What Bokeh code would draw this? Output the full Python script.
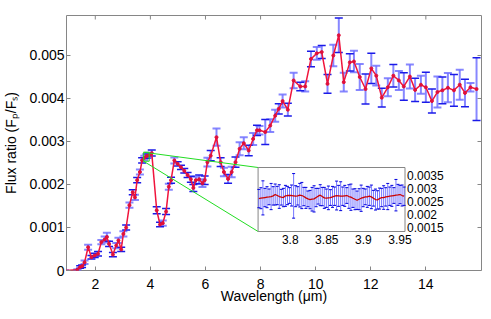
import math
from bokeh.plotting import figure
from bokeh.models import ColumnDataSource, Whisker, TeeHead, Range1d, FixedTicker
from bokeh.embed import file_html
from bokeh.resources import INLINE
from bokeh.core.properties import value

# ---------------- main spectrum ----------------
wl = [0.9, 1.35, 1.45, 1.52, 1.61, 1.74, 1.86, 1.98, 2.1, 2.22,
      2.34, 2.42, 2.5, 2.64, 2.76, 2.84, 2.94, 3.02, 3.12, 3.24,
      3.36, 3.44, 3.52, 3.62, 3.7, 3.78, 3.86, 3.95, 4.05, 4.23,
      4.35, 4.45, 4.57, 4.67, 4.75, 4.87, 4.99, 5.11, 5.23, 5.35,
      5.47, 5.56, 5.65, 5.77, 5.89, 5.97, 6.07, 6.19, 6.4, 6.55,
      6.67, 6.82, 6.95, 7.09, 7.24, 7.39, 7.57, 7.73, 7.87, 7.96,
      8.17, 8.35, 8.53, 8.66, 8.8, 8.99, 9.2, 9.44, 9.62, 9.83,
      10.04, 10.22, 10.43, 10.64, 10.84, 11.02, 11.24, 11.39, 11.6, 11.81,
      12.02, 12.2, 12.4, 12.62, 12.82, 13.02, 13.2, 13.42, 13.61, 13.82,
      14.0, 14.22, 14.42, 14.6, 14.8, 15.02, 15.23, 15.42, 15.62, 15.84]
flux = [0.0, 0.00002, 0.00008, 0.0001, 0.00019, 0.00054, 0.00031, 0.00035, 0.00039, 0.00066,
        0.00072, 0.00078, 0.00062, 0.00037, 0.00058, 0.0007, 0.00049, 0.00085, 0.001, 0.00152,
        0.00182, 0.0017, 0.0021, 0.00229, 0.00256, 0.00262, 0.00266, 0.00268, 0.00273, 0.0014,
        0.00107, 0.0011, 0.00137, 0.00195, 0.0021, 0.00256, 0.00248, 0.0024, 0.00232, 0.00222,
        0.00212, 0.00192, 0.0021, 0.00212, 0.00203, 0.0021, 0.00252, 0.00267, 0.0031, 0.00252,
        0.00229, 0.00213, 0.00229, 0.00252, 0.00283, 0.00296, 0.00279, 0.00306, 0.00326, 0.00326,
        0.00322, 0.00337, 0.0036, 0.00376, 0.00394, 0.00374, 0.00442, 0.00428, 0.00428, 0.00492,
        0.00505, 0.00508, 0.00434, 0.005, 0.00547, 0.00438, 0.00484, 0.00486, 0.0045, 0.00422,
        0.0047, 0.00453, 0.00402, 0.00426, 0.00453, 0.00442, 0.00428, 0.00451, 0.0042, 0.00432,
        0.00426, 0.00394, 0.00415, 0.00419, 0.00425, 0.00419, 0.00432, 0.00413, 0.00426, 0.00422]
err = [0.0, 0.00001, 0.00003, 0.00003, 0.00004, 0.00006, 0.00004, 0.00005, 0.00005, 0.00005,
       0.00007, 0.0001, 0.00006, 0.00005, 0.00006, 0.00006, 0.00005, 0.00006, 0.00006, 0.00006,
       0.00006, 0.00006, 0.00006, 0.00006, 0.00006, 0.00005, 0.00005, 0.00006, 0.00007, 0.00008,
       0.00005, 0.00006, 0.00007, 0.00007, 0.00007, 0.00007, 0.00005, 0.00005, 0.00005, 0.00006,
       0.00007, 0.00008, 0.00008, 0.0001, 0.00009, 0.0001, 0.0001, 0.00012, 0.0002, 0.0001,
       0.0001, 0.0001, 0.00012, 0.00012, 0.00015, 0.00014, 0.00012, 0.00014, 0.00012, 0.0001,
       0.00029, 0.00015, 0.00014, 0.00012, 0.00015, 0.00015, 0.00018, 0.0001, 0.00012, 0.00018,
       0.00015, 0.00015, 0.00022, 0.00025, 0.0004, 0.00022, 0.0002, 0.00025, 0.0003, 0.00035,
       0.00035, 0.00023, 0.00022, 0.00021, 0.00026, 0.00022, 0.00032, 0.00028, 0.00027, 0.00021,
       0.00035, 0.00028, 0.00036, 0.00031, 0.00034, 0.00037, 0.00035, 0.00032, 0.0001, 0.00073]
dark = [0, 0, 1, 1, 0, 0, 1, 1, 1, 0,
        0, 0, 1, 1, 0, 0, 1, 0, 1, 0,
        1, 0, 1, 0, 1, 0, 1, 0, 1, 1,
        1, 0, 1, 0, 1, 0, 1, 1, 1, 1,
        1, 1, 0, 1, 0, 1, 0, 1, 0, 1,
        0, 1, 0, 1, 0, 0, 1, 0, 1, 0,
        1, 0, 0, 1, 0, 1, 0, 1, 0, 1,
        0, 1, 1, 0, 1, 0, 1, 0, 0, 1,
        1, 0, 1, 0, 1, 0, 1, 0, 1, 0,
        1, 1, 0, 1, 0, 1, 0, 1, 0, 1]

# ---------------- inset (high resolution 3.76-3.96 um) ----------------
inset_wl = [3.757, 3.7598, 3.7626, 3.7654, 3.7682, 3.771, 3.7738, 3.7766, 3.7794, 3.7822,
            3.785, 3.7878, 3.7906, 3.7934, 3.7962, 3.799, 3.8018, 3.8046, 3.8074, 3.8102,
            3.813, 3.8158, 3.8186, 3.8214, 3.8242, 3.827, 3.8298, 3.8326, 3.8354, 3.8382,
            3.841, 3.8438, 3.8466, 3.8494, 3.8522, 3.855, 3.8578, 3.8606, 3.8634, 3.8662,
            3.869, 3.8718, 3.8746, 3.8774, 3.8802, 3.883, 3.8858, 3.8886, 3.8914, 3.8942,
            3.897, 3.8998, 3.9026, 3.9054, 3.9082, 3.911, 3.9138, 3.9166, 3.9194, 3.9222,
            3.925, 3.9278, 3.9306, 3.9334, 3.9362, 3.939, 3.9418, 3.9446, 3.9474, 3.9502,
            3.953, 3.9558]
inset_flux = [0.002616, 0.002629, 0.002642, 0.002655, 0.002668, 0.00268, 0.002693, 0.002719, 0.00277, 0.002732,
              0.002693, 0.002668, 0.002655, 0.002719, 0.002732, 0.002732, 0.002732, 0.002719, 0.002706, 0.002719,
              0.002745, 0.002732, 0.002693, 0.002642, 0.002604, 0.002578, 0.002591, 0.002604, 0.002655, 0.002706,
              0.002745, 0.002693, 0.002642, 0.002629, 0.002642, 0.002655, 0.00268, 0.002706, 0.002732, 0.002719,
              0.002706, 0.002706, 0.002719, 0.002732, 0.002693, 0.002668, 0.002629, 0.002591, 0.002552, 0.002591,
              0.002629, 0.002655, 0.00268, 0.00268, 0.002706, 0.00268, 0.002629, 0.002578, 0.002565, 0.002616,
              0.002655, 0.002655, 0.00268, 0.002693, 0.002706, 0.002719, 0.002732, 0.002745, 0.002757, 0.00277,
              0.002732, 0.002706]
inset_err = [0.00035, 0.0004, 0.00065, 0.00035, 0.0004, 0.0003, 0.0005, 0.00035, 0.0004, 0.00035,
             0.00045, 0.0003, 0.00035, 0.0004, 0.00035, 0.0003, 0.0004, 0.00085, 0.0004, 0.00035,
             0.00045, 0.0005, 0.00035, 0.0004, 0.0003, 0.00035, 0.00045, 0.0005, 0.00035, 0.0003,
             0.0004, 0.00035, 0.0004, 0.00035, 0.00045, 0.0003, 0.0004, 0.00035, 0.00055, 0.0004,
             0.00055, 0.00035, 0.0004, 0.0003, 0.00045, 0.0005, 0.00035, 0.0004, 0.00035, 0.0004,
             0.0005, 0.00035, 0.0003, 0.0004, 0.00035, 0.00045, 0.0003, 0.0004, 0.00035, 0.0004,
             0.00035, 0.00045, 0.00035, 0.0005, 0.00035, 0.0004, 0.0003, 0.0006, 0.0004, 0.00035,
             0.0004, 0.00035]

x_ticks = [2, 4, 6, 8, 10, 12, 14]
y_ticks = [0.0, 0.001, 0.002, 0.003, 0.004, 0.005]
y_tick_labels = ["0", "0.001", "0.002", "0.003", "0.004", "0.005"]
inset_x_ticks = [3.8, 3.85, 3.9, 3.95]
inset_x_labels = ["3.8", "3.85", "3.9", "3.95"]
inset_y_ticks = [0.0015, 0.002, 0.0025, 0.003, 0.0035]
inset_y_labels = ["0.0015", "0.002", "0.0025", "0.003", "0.0035"]

# ---------------- layout parameters ----------------
X0, X1 = 0.955, 16.02
Y0, Y1 = 0.0, 0.00593
IX0, IX1 = 3.756, 3.957
IY0, IY1 = 0.00136, 0.0038
BX0, BX1 = 7.91, 13.243        # inset box placement (main data coords)
BY0, BY1 = 0.000907, 0.002395
ZY0, ZY1 = 0.00254, 0.00275     # zoom rectangle vertical extent

FONT = "Liberation Sans"
FRAME = "#868686"

p = figure(width=491, height=319, x_range=Range1d(X0, X1), y_range=Range1d(Y0, Y1),
           output_backend="svg", toolbar_location=None,
           min_border_left=63, min_border_right=10, min_border_top=15, min_border_bottom=49)
p.background_fill_color = "white"
p.border_fill_color = "white"
p.outline_line_color = FRAME
p.xgrid.visible = False
p.ygrid.visible = False

sx = (IX1 - IX0) / (BX1 - BX0)
sy = (IY1 - IY0) / (BY1 - BY0)
p.extra_x_ranges = {"ix": Range1d(IX0 - (BX0 - X0) * sx, IX1 + (X1 - BX1) * sx)}
p.extra_y_ranges = {"iy": Range1d(IY0 - (BY0 - Y0) * sy, IY1 + (Y1 - BY1) * sy)}

xa = p.xaxis[0]
ya = p.yaxis[0]
xa.ticker = FixedTicker(ticks=x_ticks)
ya.ticker = FixedTicker(ticks=y_ticks)
ya.major_label_overrides = dict(zip(y_ticks, y_tick_labels))
for ax in (xa, ya):
    ax.axis_line_color = None
    ax.major_tick_in = 4
    ax.major_tick_out = 0
    ax.minor_tick_in = 0
    ax.minor_tick_out = 0
    ax.major_tick_line_color = FRAME
    ax.major_label_text_font = FONT
    ax.major_label_text_color = "black"
    ax.major_label_text_font_size = "14px"
    ax.axis_label_text_font = FONT
    ax.axis_label_text_font_style = "normal"
    ax.axis_label_text_color = "black"
    ax.axis_label_text_font_size = "14px"
xa.axis_label = "Wavelength (\u03bcm)"
ya.axis_label = "Flux ratio (F\u209a/F\u209b)"
xa.major_label_standoff = 8
xa.axis_label_standoff = -4
ya.major_label_standoff = 2
ya.axis_label_standoff = 7

# inward ticks on the top and right edges (half of each dash is clipped by the frame)
p.scatter(x=x_ticks, y=[Y1] * len(x_ticks), marker="dash", size=8, angle=math.pi / 2,
          line_color=FRAME, line_width=1)
p.scatter(x=[X1] * len(y_ticks), y=y_ticks, marker="dash", size=8,
          line_color=FRAME, line_width=1)

# ---------------- main error bars ----------------
def split(flag):
    idx = [i for i in range(len(wl)) if dark[i] == flag]
    return ColumnDataSource(dict(
        x=[wl[i] for i in idx],
        lo=[flux[i] - err[i] for i in idx],
        hi=[flux[i] + err[i] for i in idx]))

light_src = split(0)
dark_src = split(1)

LIGHT = "#7272ff"
DARK = "#1a1ae8"
p.add_layout(Whisker(source=light_src, base="x", lower="lo", upper="hi", dimension="height",
                     line_color=LIGHT, line_alpha=0.85, line_width=2,
                     upper_head=TeeHead(size=8, line_color=LIGHT, line_alpha=0.85, line_width=2),
                     lower_head=TeeHead(size=8, line_color=LIGHT, line_alpha=0.85, line_width=2)))
p.add_layout(Whisker(source=dark_src, base="x", lower="lo", upper="hi", dimension="height",
                     line_color=LIGHT, line_alpha=0.85, line_width=2,
                     upper_head=TeeHead(size=8, line_color=DARK, line_width=1.5),
                     lower_head=TeeHead(size=8, line_color=DARK, line_width=1.5)))

main_src = ColumnDataSource(dict(x=wl, y=flux))
p.line("x", "y", source=main_src, line_color="#f0143c", line_width=1.5)
p.scatter("x", "y", source=main_src, size=3, color="#e0103a")

# ---------------- zoom indicator ----------------
p.quad(left=[IX0], right=[IX1], bottom=[ZY0], top=[ZY1], fill_color=None,
       line_color="#22dd22", line_width=1)
p.segment(x0=[IX0, IX0], y0=[ZY1, ZY0], x1=[BX0, BX0], y1=[BY1, BY0],
          line_color="#22dd22", line_width=1)

# ---------------- inset ----------------
p.quad(left=[IX0], right=[IX1], bottom=[IY0], top=[IY1], fill_color="white",
       line_color=FRAME, line_width=1, x_range_name="ix", y_range_name="iy")

inset_src = ColumnDataSource(dict(
    x=inset_wl,
    y=inset_flux,
    lo=[f - e for f, e in zip(inset_flux, inset_err)],
    hi=[f + e for f, e in zip(inset_flux, inset_err)]))
IB = "#3a3aff"
p.segment(x0="x", y0="lo", x1="x", y1="hi", source=inset_src, line_color=IB,
          line_alpha=0.7, line_width=1, x_range_name="ix", y_range_name="iy")
p.scatter("x", "lo", source=inset_src, marker="dash", size=3, line_color="#0000dd",
          line_width=1, x_range_name="ix", y_range_name="iy")
p.scatter("x", "hi", source=inset_src, marker="dash", size=3, line_color="#0000dd",
          line_width=1, x_range_name="ix", y_range_name="iy")
p.line("x", "y", source=inset_src, line_color="#cc0000", line_width=1.3,
       x_range_name="ix", y_range_name="iy")

p.text(x=inset_x_ticks, y=[IY0] * len(inset_x_ticks), text=inset_x_labels,
       text_font=value(FONT), text_font_size="12px", text_align="center",
       text_baseline="top", y_offset=4, text_color="black",
       x_range_name="ix", y_range_name="iy")
p.text(x=[IX1] * len(inset_y_ticks), y=inset_y_ticks, text=inset_y_labels,
       text_font=value(FONT), text_font_size="12px", text_align="left",
       text_baseline="middle", x_offset=2, text_color="black",
       x_range_name="ix", y_range_name="iy")

open("out.html", "w").write(file_html(p, INLINE))
